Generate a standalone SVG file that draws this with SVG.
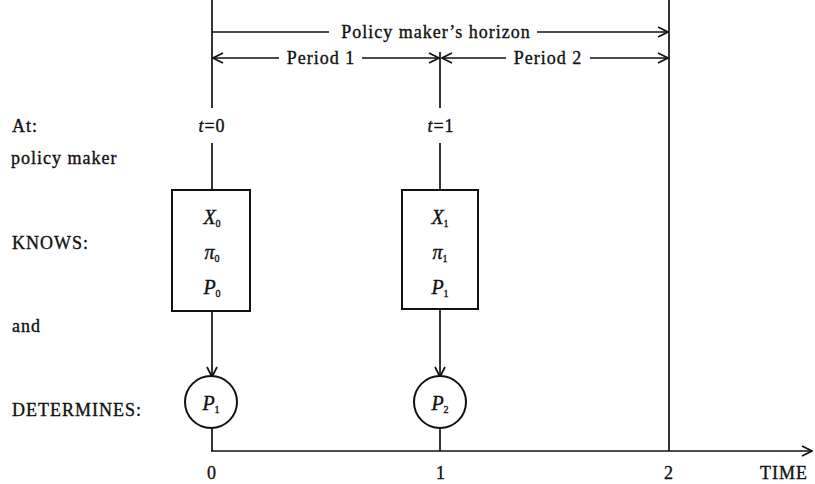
<svg xmlns="http://www.w3.org/2000/svg" width="815" height="484" viewBox="0 0 815 484">
  <style>
    text { font-family: "Liberation Serif", "Times New Roman", serif; font-size: 18px; fill: #111; stroke: #111; stroke-width: 0.35; letter-spacing: 1px; }
    .lbl { text-anchor: start; }
    .mid { text-anchor: middle; }
    .var { font-style: italic; text-anchor: middle; font-size: 20px; letter-spacing: 0; }
    .sub { font-size: 10px; font-style: normal; }
    .ln { stroke: #111; stroke-width: 1.7; fill: none; }
    .box { stroke: #111; stroke-width: 2; fill: #fff; }
  </style>
  <defs>
    <marker id="head" viewBox="0 0 12 12" refX="11" refY="6" markerWidth="12" markerHeight="12" markerUnits="userSpaceOnUse" orient="auto-start-reverse">
      <path d="M1,1 L11,6 L1,11" fill="none" stroke="#111" stroke-width="1.7"/>
    </marker>
  </defs>

  <!-- row labels -->
  <g id="row-labels">
    <text class="lbl" x="12" y="132">At:</text>
    <text class="lbl" x="11" y="164">policy maker</text>
    <text class="lbl" x="12" y="249">KNOWS:</text>
    <text class="lbl" x="12" y="332">and</text>
    <text class="lbl" x="12" y="416">DETERMINES:</text>
  </g>

  <!-- connectors: time lines, spans, flows and axis -->
  <g id="connectors">
    <line class="ln" x1="212" y1="0" x2="212" y2="108"/>
    <line class="ln" x1="440" y1="52" x2="440" y2="108"/>
    <line class="ln" x1="669" y1="0" x2="669" y2="451"/>

    <!-- horizon span -->
    <line class="ln" x1="212" y1="32" x2="329" y2="32"/>
    <line class="ln" x1="537" y1="32" x2="668" y2="32" marker-end="url(#head)"/>

    <!-- period spans -->
    <line class="ln" x1="213" y1="58" x2="279" y2="58" marker-start="url(#head)"/>
    <line class="ln" x1="362" y1="58" x2="439" y2="58" marker-end="url(#head)"/>
    <line class="ln" x1="442" y1="58" x2="506" y2="58" marker-start="url(#head)"/>
    <line class="ln" x1="590" y1="58" x2="668" y2="58" marker-end="url(#head)"/>

    <!-- t=0 column -->
    <line class="ln" x1="212" y1="143" x2="212" y2="190"/>
    <line class="ln" x1="212" y1="311" x2="212" y2="377" marker-end="url(#head)"/>
    <line class="ln" x1="212" y1="428" x2="212" y2="451"/>

    <!-- t=1 column -->
    <line class="ln" x1="440" y1="143" x2="440" y2="190"/>
    <line class="ln" x1="440" y1="309" x2="440" y2="377" marker-end="url(#head)"/>
    <line class="ln" x1="440" y1="428" x2="440" y2="451"/>

    <!-- time axis -->
    <line class="ln" x1="211" y1="451" x2="812" y2="451" marker-end="url(#head)"/>
  </g>

  <!-- span labels -->
  <g id="span-labels">
    <text class="mid" x="436" y="38">Policy maker’s horizon</text>
    <text class="mid" x="321" y="64">Period 1</text>
    <text class="mid" x="548" y="64">Period 2</text>
  </g>

  <!-- time points -->
  <g id="time-points">
    <text class="mid" x="212" y="132"><tspan font-style="italic">t</tspan>=0</text>
    <text class="mid" x="441" y="132"><tspan font-style="italic">t</tspan>=1</text>
  </g>

  <g id="knows-0">
    <rect class="box" x="172" y="190" width="78" height="121"/>
    <text class="var" x="212" y="224">X<tspan class="sub" dy="3">0</tspan></text>
    <text class="var" x="212" y="259">π<tspan class="sub" dy="3">0</tspan></text>
    <text class="var" x="212" y="294">P<tspan class="sub" dy="3">0</tspan></text>
  </g>

  <g id="knows-1">
    <rect class="box" x="402" y="190" width="76" height="119"/>
    <text class="var" x="440" y="224">X<tspan class="sub" dy="3">1</tspan></text>
    <text class="var" x="440" y="259">π<tspan class="sub" dy="3">1</tspan></text>
    <text class="var" x="440" y="294">P<tspan class="sub" dy="3">1</tspan></text>
  </g>

  <g id="determines-0">
    <circle class="box" cx="211" cy="402" r="26"/>
    <text class="var" x="211" y="410">P<tspan class="sub" dy="3">1</tspan></text>
  </g>

  <g id="determines-1">
    <circle class="box" cx="440" cy="402" r="26"/>
    <text class="var" x="440" y="410">P<tspan class="sub" dy="3">2</tspan></text>
  </g>

  <!-- axis tick labels -->
  <g id="axis-labels">
    <text class="mid" x="212" y="479">0</text>
    <text class="mid" x="441" y="479">1</text>
    <text class="mid" x="669" y="479">2</text>
    <text class="lbl" x="760" y="479">TIME</text>
  </g>
</svg>
